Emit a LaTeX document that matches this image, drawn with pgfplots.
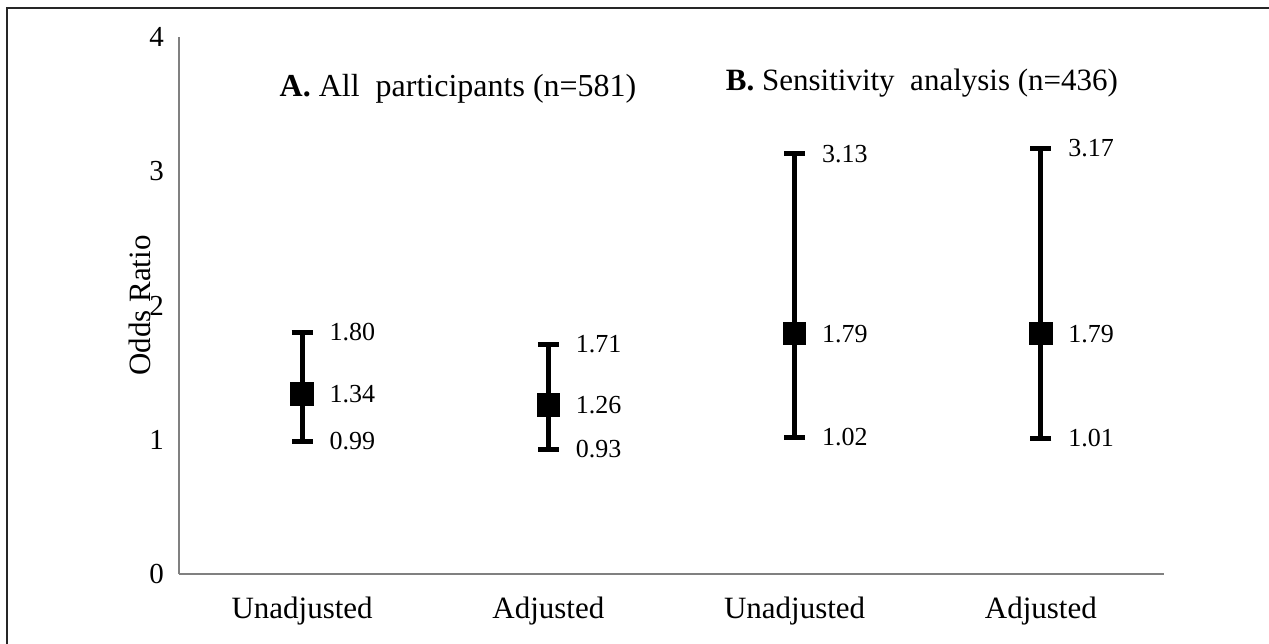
\documentclass[border=0pt]{standalone}
\usepackage{fontspec}
\setmainfont{Liberation Serif}
\usepackage{pgfplots}
\usepackage{pgfplotstable}
\pgfplotsset{compat=1.18}
\pgfplotstableread{
x    y     lo    hi
0.5  1.34  0.99  1.80
1.5  1.26  0.93  1.71
2.5  1.79  1.02  3.13
3.5  1.79  1.01  3.17
}\ordata
\newcommand{\tl}[1]{\fontsize{14.5}{17}\selectfont #1}
\begin{document}
\begin{tikzpicture}
\useasboundingbox (0,0) rectangle (634.5pt,-321.5pt);
\draw[line width=1.1pt, black!85] (3.5pt,-340pt) -- (3.5pt,-4pt) -- (650pt,-4pt);
\begin{axis}[
  at={(89.5pt,-18.5pt)}, anchor=north west,
  scale only axis, width=492.5pt, height=268.5pt,
  xmin=0, xmax=4, ymin=0, ymax=4,
  axis x line*=bottom, axis y line*=left,
  axis line style={draw=black!50, line width=0.9pt},
  major tick length=0pt,
  /pgf/number format/assume math mode=true,
  ytick={0,1,2,3,4},
  yticklabels={\tl{0},\tl{1},\tl{2},\tl{3},\tl{4}},
  y tick label style={xshift=-4pt},
  xtick={0.5,1.5,2.5,3.5},
  xticklabels={Unadjusted,Adjusted,Unadjusted,Adjusted},
  x tick label style={font=\fontsize{15.5}{18}\selectfont, yshift=-8pt},
  ylabel={Odds Ratio},
  every axis y label/.style={at={(axis description cs:-0.0396,0.5)}, rotate=90, anchor=center, font=\fontsize{15.5}{18}\selectfont},
  clip=false,
  nodes near coords style={anchor=west, inner sep=0pt, xshift=13.5pt, font=\fontsize{13}{15}\selectfont, text=black},
]
\addplot[black, only marks, mark=square*, mark size=5.6pt, mark options={fill=black, draw=black, line width=0.5pt},
  error bars/.cd, y dir=both, y explicit,
  error bar style={line width=2.5pt, black},
  error mark options={rotate=90, mark size=5.2pt, line width=2.5pt, black}]
  table[x=x, y=y, y error plus expr=\thisrow{hi}-\thisrow{y}, y error minus expr=\thisrow{y}-\thisrow{lo}] {\ordata};
\addplot[draw=none, mark=none, nodes near coords={\pgfmathprintnumber[fixed,fixed zerofill,precision=2]{\pgfplotspointmeta}}, point meta=y]
  table[x=x, y=y] {\ordata};
\addplot[draw=none, mark=none, nodes near coords={\pgfmathprintnumber[fixed,fixed zerofill,precision=2]{\pgfplotspointmeta}}, point meta=y]
  table[x=x, y=lo] {\ordata};
\addplot[draw=none, mark=none, nodes near coords={\pgfmathprintnumber[fixed,fixed zerofill,precision=2]{\pgfplotspointmeta}}, point meta=y]
  table[x=x, y=hi] {\ordata};
\node[anchor=base, font=\fontsize{16}{19}\selectfont] at (axis cs:1.133,3.56) {\textbf{A.} All\ \ participants (n=581)};
\node[anchor=base, font=\fontsize{15.5}{18}\selectfont] at (axis cs:3.017,3.605) {\textbf{B.} Sensitivity\ \ analysis (n=436)};
\end{axis}
\end{tikzpicture}
\end{document}
